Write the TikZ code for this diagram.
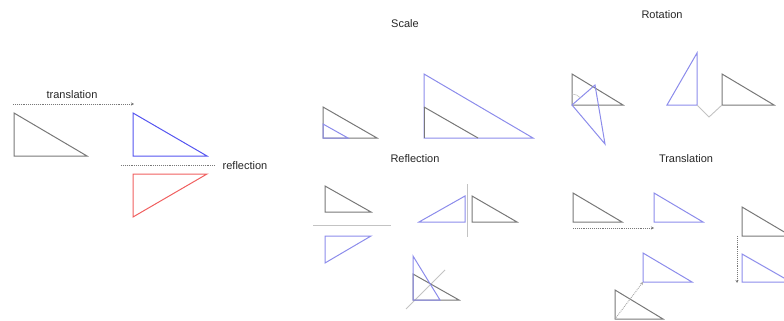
\documentclass[tikz,border=0pt]{standalone}
\usepackage{fontspec}
\setmainfont{Liberation Sans}
\usetikzlibrary{arrows.meta}
\definecolor{blk}{RGB}{120,120,120}
\definecolor{bluedark}{RGB}{85,85,240}
\definecolor{bluelt}{RGB}{140,140,235}
\definecolor{redlt}{RGB}{240,95,95}
\definecolor{axisg}{RGB}{195,195,195}
\begin{document}
\begin{tikzpicture}[x=1pt,y=-1pt,
  tri/.style={line width=1pt,line join=miter},
  orig/.style={tri,draw=blk},
  img/.style={tri,draw=bluelt},
  axis/.style={line width=0.9pt,draw=axisg},
  mv/.style={densely dotted,line width=0.9pt,draw=blk,-{Stealth[length=3pt,width=3pt]}},
  lbl/.style={font=\fontsize{11}{13}\selectfont,text=black!85,inner sep=0pt}]
\useasboundingbox (0,0) rectangle (784,321);
\clip (0,0) rectangle (784,321);

% ---------- left overview ----------
\node[lbl] (tl) at (72,95) {translation};
\coordinate (ta) at (13,104);
\coordinate (tb) at (134,104);
\draw[mv] (ta) -- (tb);
\draw[orig] (14,113) -- (14,156) -- (87,156) -- cycle;
\draw[tri,draw=bluedark] (133,113) -- (133,156) -- (207,156) -- cycle;
\coordinate (ra) at (121,165);
\coordinate (rb) at (215,165);
\draw[densely dotted,line width=0.9pt,draw=blk] (ra) -- (rb);
\node[lbl] (rl) at (245,166) {reflection};
\draw[tri,draw=redlt] (133,174) -- (207,174) -- (133,217) -- cycle;

% ---------- Scale ----------
\node[lbl] (sc) at (405,24) {Scale};
\draw[orig] (323,107) -- (323,138) -- (377,138) -- cycle;
\draw[img] (323,124) -- (323,138) -- (348,138) -- cycle;
\draw[img] (424,74) -- (424,138) -- (533,138) -- cycle;
\draw[orig] (424,107) -- (478,138);
\draw[orig] (424,107) -- (424,138);

% ---------- Rotation ----------
\node[lbl] (ro) at (662,15) {Rotation};
\draw[orig] (572,74) -- (572,105) -- (623,105) -- cycle;
\draw[img] (572,105) -- (595,85) -- (605,144) -- cycle;
\draw[line width=0.6pt,draw=axisg] (572,94) arc[start angle=-90,end angle=-41,radius=11];
\draw[img] (697,53) -- (697,105) -- (667,105) -- cycle;
\draw[orig] (722,74) -- (722,105) -- (774,105) -- cycle;
\coordinate (rc1) at (697,105);
\coordinate (rc2) at (709,117);
\coordinate (rc3) at (722,105);
\draw[axis] (rc1) -- (rc2) -- (rc3);

% ---------- Reflection ----------
\node[lbl] (rf) at (415,159) {Reflection};
\draw[orig] (325,186) -- (325,212) -- (371,212) -- cycle;
\draw[axis] (313,225) -- (391,225);
\draw[img] (325,236) -- (371,236) -- (325,263) -- cycle;
\draw[img] (419,222) -- (465,222) -- (465,196) -- cycle;
\draw[axis] (467,184) -- (467,237);
\draw[orig] (472,196) -- (472,222) -- (517,222) -- cycle;
\draw[axis] (406,309) -- (445,270);
\draw[orig] (413,274) -- (413,300) -- (459,300) -- cycle;
\draw[img] (413,256) -- (413,300) -- (440,300) -- cycle;

% ---------- Translation ----------
\node[lbl] (tr) at (686,159) {Translation};
\draw[orig] (573,193) -- (573,222) -- (622,222) -- cycle;
\coordinate (h1) at (573,228);
\coordinate (h2) at (654,228);
\draw[mv] (h1) -- (h2);
\draw[img] (654,193) -- (654,222) -- (703,222) -- cycle;
\draw[orig] (742,207) -- (742,236) -- (791,236) -- cycle;
\coordinate (v1) at (737,236);
\coordinate (v2) at (737,283);
\draw[mv] (v1) -- (v2);
\draw[img] (742,254) -- (742,282) -- (791,282) -- cycle;
\draw[img] (643,253) -- (643,282) -- (692,282) -- cycle;
\draw[orig] (615,290) -- (615,319) -- (663,319) -- cycle;
\coordinate (d1) at (615,319);
\coordinate (d2) at (643,282);
\draw[mv,draw=axisg!85!black] (d1) -- (d2);
\end{tikzpicture}
\end{document}
